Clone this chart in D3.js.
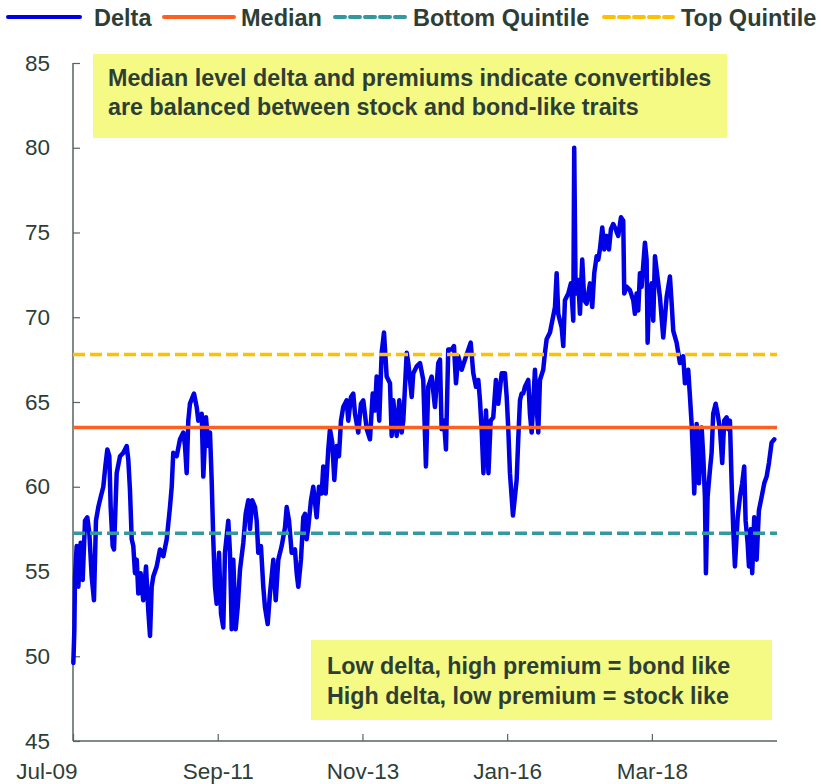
<!DOCTYPE html>
<html><head><meta charset="utf-8">
<script src="https://cdnjs.cloudflare.com/ajax/libs/d3/7.8.5/d3.min.js"></script>
<style>body{margin:0;background:#fff} svg{display:block;font-family:"Liberation Sans",Arial,sans-serif}</style>
</head><body><svg id="c" width="821" height="784"></svg>
<script>
// Dates as decimal years
const dates = [
2009.505,2009.52,2009.53,2009.555,2009.58,2009.615,2009.645,2009.68,2009.714,2009.744,2009.78,2009.814,2009.844,2009.879,2009.915,2009.954,2009.984,2010.014,2010.044,2010.064,2010.094,2010.114,2010.154,2010.204,2010.253,2010.304,2010.328,2010.353,2010.379,2010.403,2010.428,2010.454,2010.478,2010.513,2010.552,2010.593,2010.627,2010.653,2010.678,2010.702,2010.753,2010.802,2010.852,2010.903,2010.952,2010.978,2011.001,2011.052,2011.102,2011.151,2011.177,2011.202,2011.226,2011.251,2011.311,2011.352,2011.376,2011.427,2011.451,2011.491,2011.526,2011.551,2011.576,2011.600,2011.626,2011.651,
2011.686,2011.716,2011.750,2011.775,2011.825,2011.850,2011.876,2011.900,2011.936,2011.966,2012.000,2012.050,2012.085,2012.124,2012.150,2012.184,2012.225,2012.250,2012.274,2012.314,2012.349,2012.374,2012.415,2012.449,2012.499,2012.535,2012.574,2012.624,2012.674,2012.699,2012.734,2012.774,2012.823,2012.849,2012.873,2012.913,2012.948,2012.973,2012.998,2013.022,2013.063,2013.097,2013.148,2013.183,2013.223,2013.247,2013.283,2013.322,2013.347,2013.382,2013.412,2013.448,2013.482,2013.512,2013.546,2013.597,2013.621,2013.662,2013.696,2013.722,2013.771,2013.811,2013.846,
2013.897,2013.946,2013.987,2014.021,2014.046,2014.085,2014.121,2014.156,2014.196,2014.246,2014.271,2014.295,2014.346,2014.385,2014.421,2014.445,2014.496,2014.520,2014.571,2014.595,2014.645,2014.695,2014.744,2014.784,2014.819,2014.870,2014.919,2014.969,2014.994,2015.019,2015.054,2015.084,2015.118,2015.169,2015.204,2015.234,2015.268,2015.319,2015.368,2015.403,2015.454,2015.493,2015.533,2015.568,2015.593,2015.618,2015.645,2015.683,2015.720,2015.753,2015.792,2015.832,2015.867,2015.918,2015.967,2015.993,2016.017,2016.042,2016.087,2016.142,
2016.166,2016.192,2016.217,2016.241,2016.266,2016.316,2016.341,2016.367,2016.416,2016.442,2016.466,2016.491,2016.540,2016.566,2016.591,2016.641,2016.666,2016.716,2016.741,2016.765,2016.790,2016.816,2016.840,2016.865,2016.915,2016.955,2016.990,2017.004,2017.025,2017.064,2017.090,2017.124,2017.154,2017.190,2017.240,2017.274,2017.304,2017.340,2017.364,2017.389,2017.424,2017.454,2017.490,2017.524,2017.554,2017.588,2017.624,2017.663,2017.704,2017.738,2017.753,2017.789,2017.838,2017.888,2017.913,2017.938,2017.963,2017.988,2018.013,2018.063,2018.088,2018.103,2018.123,2018.163,2018.187,2018.213,2018.287,2018.337,2018.388,2018.437,2018.463,2018.487,2018.537,2018.587,2018.636,2018.662,2018.711,2018.737,2018.762,2018.786,2018.801,2018.837,2018.871,2018.912,2018.936,2018.961,2018.976,2019.001,2019.036,2019.061,2019.085,2019.121,2019.151,2019.186,2019.220,2019.250,2019.286,2019.310,2019.335,2019.361,2019.385,2019.410,2019.451,2019.485,2019.519,2019.549,2019.570,2019.600,2019.620,2019.650,2019.669,2019.699,2019.735,2019.769,2019.810,2019.849,2019.885,2019.919,2019.959,2019.999
];
const delta = [
49.6,51.5,54.7,56.5,54.1,56.7,54.5,58.0,58.2,57.3,54.7,53.3,58.0,58.8,59.4,60.0,61.2,62.2,61.8,58.8,56.5,56.3,60.8,61.8,62.0,62.4,61.6,59.8,56.9,56.5,54.9,55.7,53.7,54.9,53.3,55.3,52.7,51.2,54.1,54.7,55.3,56.3,55.9,56.9,58.8,60.0,62.0,61.8,62.8,63.2,62.4,60.8,63.9,64.9,65.5,64.7,63.9,64.3,60.6,64.1,62.4,63.2,60.4,56.9,54.1,53.1,
56.1,52.5,51.7,56.1,58.0,56.1,51.6,55.7,51.6,52.9,55.1,56.7,58.4,59.2,57.5,59.2,58.8,58.0,56.1,56.5,54.1,52.9,51.9,53.7,55.7,53.3,55.7,56.5,57.6,58.8,58.0,56.1,56.3,54.9,54.1,55.7,58.2,58.4,56.9,57.6,59.2,60.0,58.2,60.0,59.6,61.2,59.6,62.2,63.4,62.6,60.4,62.4,61.8,63.9,64.7,65.1,63.9,65.3,65.5,64.3,63.2,64.9,65.1,
63.4,62.8,65.5,64.5,66.5,63.9,67.9,69.1,66.5,66.1,63.0,65.1,63.0,65.1,63.2,63.9,67.9,67.3,65.3,66.7,67.1,67.3,66.3,61.2,65.9,66.5,64.7,67.3,67.5,63.4,63.9,62.2,68.1,68.1,68.3,66.1,67.7,66.9,67.5,67.9,68.5,66.7,65.9,66.3,65.1,63.4,60.8,64.5,60.8,63.9,64.1,66.3,64.9,66.7,66.7,65.3,63.4,60.8,58.3,60.4,
62.8,65.1,65.5,65.5,65.9,66.3,64.3,63.2,66.9,64.7,63.2,66.3,66.9,67.9,68.7,69.1,69.6,70.6,72.6,70.2,69.8,69.4,68.3,71.0,71.4,72.0,69.8,80.0,71.4,72.2,70.2,73.4,71.0,70.8,72.0,70.6,72.6,73.6,73.4,74.0,75.3,74.0,74.8,74.0,75.2,75.5,75.2,74.8,75.9,75.7,71.4,71.8,71.6,71.0,70.2,71.4,70.4,72.6,71.8,74.4,73.4,68.5,71.0,72.0,69.8,73.6,71.2,68.8,71.2,72.4,70.8,69.2,68.5,67.3,67.7,66.1,66.9,65.3,63.7,61.4,59.6,63.7,60.2,63.5,61.8,59.4,54.9,59.4,61.0,62.0,64.3,64.9,64.3,63.4,61.4,63.9,64.1,63.4,63.9,60.2,57.5,55.3,58.2,59.4,60.2,61.2,58.0,56.7,55.3,57.5,54.9,58.2,55.7,58.6,59.4,60.2,60.6,61.4,62.6,62.8
];
const medianValue = 63.5;
const bottomQuintile = 57.25;
const topQuintile = 67.8;
const xTickValues = [2009.5, 2011 + 8/12, 2013 + 10/12, 2016.0, 2018 + 2/12];
const xTickLabels = ["Jul-09", "Sep-11", "Nov-13", "Jan-16", "Mar-18"];
const yTickValues = [45, 50, 55, 60, 65, 70, 75, 80, 85];
const legendLabels = ["Delta", "Median", "Bottom Quintile", "Top Quintile"];
const noteTop = ["Median level delta and premiums indicate convertibles", "are balanced between stock and bond-like traits"];
const noteBottom = ["Low delta, high premium = bond like", "High delta, low premium = stock like"];

const svg = d3.select("#c");
const textCol = "#2d3e35";
const axisCol = "#56655d";
const x = d3.scaleLinear().domain([2009.5, 2020.04]).range([73, 777]);
const y = d3.scaleLinear().domain([45, 85]).range([741, 63]);

// annotation boxes
const boxFill = "#f4fa84";
const gTop = svg.append("g");
gTop.append("rect").attr("x", 93).attr("y", 54).attr("width", 634).attr("height", 84).attr("fill", boxFill);
gTop.selectAll("text").data(noteTop).join("text")
  .attr("x", 108).attr("y", (d, i) => 86 + i * 29)
  .attr("font-size", 23.3).attr("font-weight", "bold").attr("fill", textCol).text(d => d);
const gBot = svg.append("g");
gBot.append("rect").attr("x", 311).attr("y", 640).attr("width", 461).attr("height", 80).attr("fill", boxFill);
gBot.selectAll("text").data(noteBottom).join("text")
  .attr("x", 327).attr("y", (d, i) => 674 + i * 30)
  .attr("font-size", 23.3).attr("font-weight", "bold").attr("fill", textCol).text(d => d);

// axes
const yAxis = d3.axisLeft(y).tickValues(yTickValues).tickSize(-7).tickPadding(23).tickFormat(d3.format("d"));
const gy = svg.append("g").attr("transform", "translate(73,0)").call(yAxis);
const xAxis = d3.axisBottom(x).tickValues(xTickValues).tickSize(-7).tickPadding(22).tickFormat((d, i) => xTickLabels[i]);
const gx = svg.append("g").attr("transform", "translate(0,741)").call(xAxis);
[gx, gy].forEach(g => {
  g.select(".domain").attr("stroke", axisCol).attr("stroke-width", 1.5);
  g.selectAll(".tick line").attr("stroke", axisCol).attr("stroke-width", 1.2);
  g.selectAll(".tick text").attr("fill", textCol).attr("font-size", 22.5).attr("font-family", "Liberation Sans, Arial, sans-serif");
});
gx.selectAll(".tick text").filter((d, i) => i === 0).attr("text-anchor", "end").attr("x", 4);
gx.select(".domain").attr("d", "M73,0H777");
gy.select(".domain").attr("d", "M0,63V741");

// delta line
const pts = dates.map((d, i) => [d, delta[i]]);
svg.append("path").datum(pts)
  .attr("fill", "none").attr("stroke", "#0000e6").attr("stroke-width", 4.5)
  .attr("stroke-linejoin", "round").attr("stroke-linecap", "round")
  .attr("d", d3.line().x(d => x(d[0])).y(d => y(d[1])));

// reference lines
const refs = [
  {v: medianValue, c: "#ff5f1f", dash: null},
  {v: bottomQuintile, c: "#33999f", dash: "12,5"},
  {v: topQuintile, c: "#ffc000", dash: "12,5"}
];
refs.forEach(r => {
  svg.append("line").attr("x1", x(2009.5)).attr("x2", x(2020.04))
    .attr("y1", y(r.v)).attr("y2", y(r.v))
    .attr("stroke", r.c).attr("stroke-width", 3.5)
    .attr("stroke-dasharray", r.dash);
});

// legend
const legendItems = [
  {label: legendLabels[0], c: "#0000e6", dash: null, x1: 8, x2: 80, tx: 94},
  {label: legendLabels[1], c: "#ff5f1f", dash: null, x1: 164, x2: 234, tx: 241},
  {label: legendLabels[2], c: "#33999f", dash: "10,5", x1: 335, x2: 405, tx: 413},
  {label: legendLabels[3], c: "#ffc000", dash: "10,5", x1: 604, x2: 673, tx: 681}
];
const gl = svg.append("g");
legendItems.forEach(it => {
  gl.append("line").attr("x1", it.x1).attr("x2", it.x2).attr("y1", 17).attr("y2", 17)
    .attr("stroke", it.c).attr("stroke-width", 4).attr("stroke-linecap", "round")
    .attr("stroke-dasharray", it.dash);
  gl.append("text").attr("x", it.tx).attr("y", 26).attr("font-size", 23.5).attr("font-weight", "bold")
    .attr("fill", textCol).text(it.label);
});
</script></body></html>
